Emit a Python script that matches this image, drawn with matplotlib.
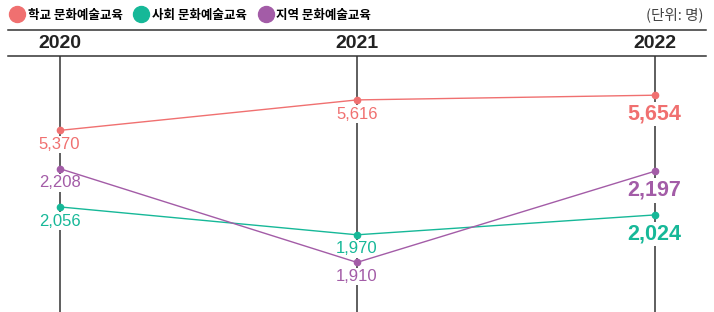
import numpy as np
import matplotlib
matplotlib.use("Agg")
import matplotlib.pyplot as plt
from matplotlib.lines import Line2D
from matplotlib.transforms import blended_transform_factory
from matplotlib.font_manager import FontProperties

# ---- data ----
years = ["2020", "2021", "2022"]
series_names = ["학교 문화예술교육", "사회 문화예술교육", "지역 문화예술교육"]
school = [5370, 5616, 5654]
social = [2056, 1970, 2024]
regional = [2208, 1910, 2197]
unit_label = "(단위: 명)"

colors = ["#F07070", "#16B898", "#A35CA7"]
NUM_FONT = ["Liberation Sans Narrow", "Liberation Sans", "DejaVu Sans"]
KR_FONT = ["Noto Sans CJK KR", "DejaVu Sans"]

W, H = 714, 312
fig = plt.figure(figsize=(W / 100, H / 100), dpi=100)
ax = fig.add_axes([0, 0, 1, (H - 56) / H])

# piecewise scale (infographic-style compressed axis)
vp = np.array([1700, 1900, 2000, 2250, 5300, 6000], dtype=float)
yp = -np.array([340, 267, 221, 158, 139.1, 52.3])
fwd = lambda v: np.interp(v, vp, yp)
inv = lambda u: np.interp(u, yp, vp)
ax.set_yscale("function", functions=(fwd, inv))
ax.set_ylim(inv(-312.0), inv(-56.0))
ax.set_xlim(-0.2, 2.2)
ax.axis("off")

x = np.arange(len(years))
for xi in x:
    ax.axvline(xi, color="#333333", lw=1.1, zorder=1)

all_series = [school, social, regional]
for vals, c in zip(all_series, colors):
    ax.plot(x, vals, color=c, lw=1.0, marker="o", markersize=4.5, zorder=3)
    for i, v in enumerate(vals):
        last = i == len(vals) - 1
        ax.annotate(f"{v:,}", (x[i], v),
                    xytext=(0, -13.7 if last else -10.2), textcoords="offset points",
                    ha="center", va="center", color=c,
                    fontsize=15.5 if last else 12,
                    fontweight="bold" if last else "normal",
                    family=NUM_FONT, zorder=2,
                    bbox=dict(boxstyle="square,pad=0.08", fc="white", ec="none"))

# year headers
tr = blended_transform_factory(ax.transData, fig.transFigure)
for xi, y in zip(x, years):
    ax.text(xi, 1 - 43 / H, y, transform=tr, ha="center", va="center",
            fontsize=14, fontweight="bold", color="#222222", family=NUM_FONT)

# horizontal rules
for yy, lw in [(30, 1.1), (56, 1.1)]:
    fig.add_artist(Line2D([8 / W, 706 / W], [1 - yy / H] * 2,
                          transform=fig.transFigure, color="#333333", lw=lw))

# legend
handles = [Line2D([], [], marker="o", linestyle="none", markersize=11.5,
                  color=c) for c in colors]
fig.legend(handles, series_names, loc="center left",
           bbox_to_anchor=(12 / W, 1 - 15 / H), ncol=3, frameon=False,
           handletextpad=0.45, columnspacing=1.1, handlelength=0.8,
           borderaxespad=0, borderpad=0,
           prop=FontProperties(family=KR_FONT, size=9, weight="bold"))

fig.text(704 / W, 1 - 15 / H, unit_label, ha="right", va="center",
         fontsize=10.5, color="#444444", family=KR_FONT)

fig.savefig("out.png", dpi=100)
